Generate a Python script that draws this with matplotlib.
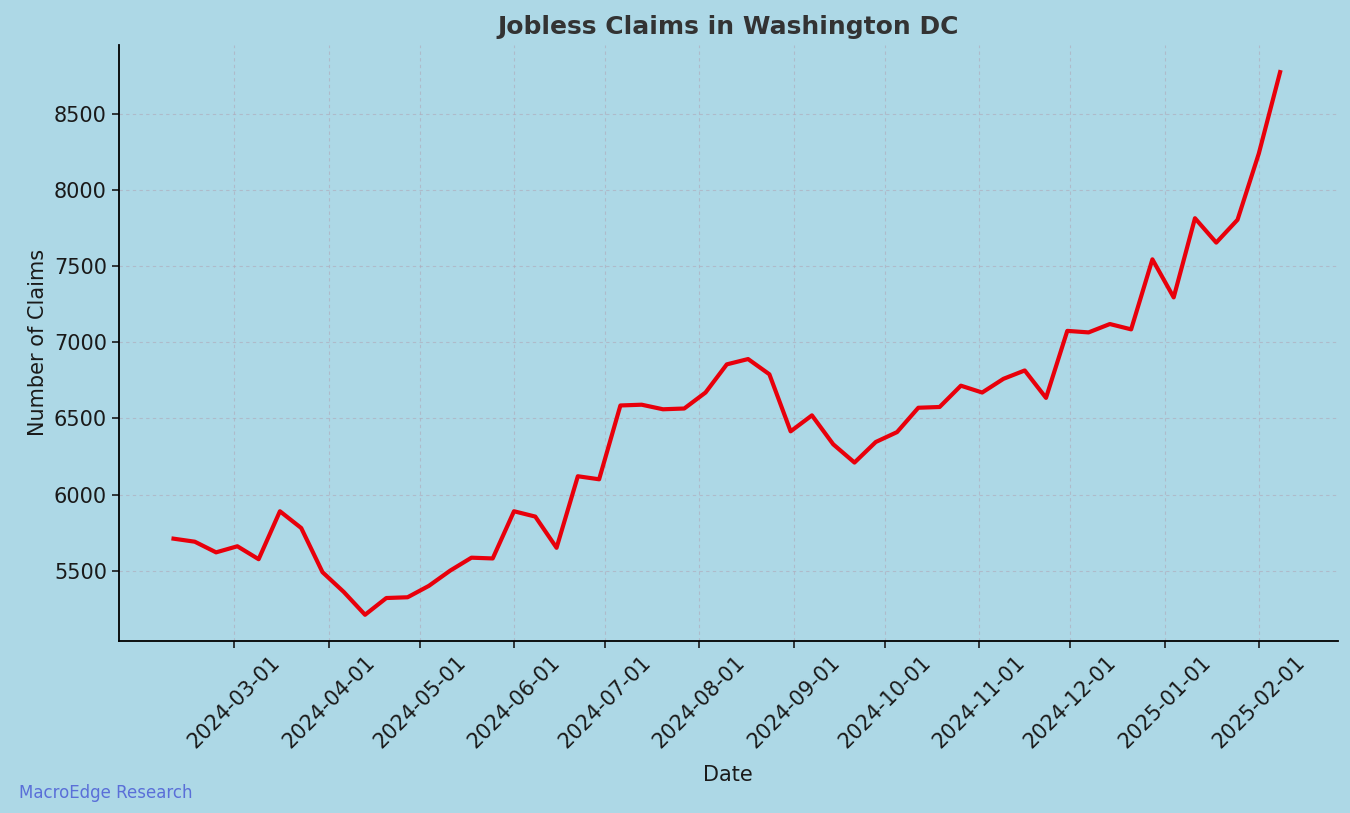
import matplotlib
matplotlib.use("Agg")
import matplotlib.pyplot as plt
import matplotlib.dates as mdates
import pandas as pd

dates = pd.date_range("2024-02-10", periods=53, freq="7D")
claims = [5710, 5690, 5620, 5660, 5575, 5890, 5780, 5490, 5360, 5210,
          5320, 5325, 5400, 5500, 5585, 5580, 5890, 5855, 5650, 6120,
          6100, 6585, 6590, 6560, 6565, 6670, 6855, 6890, 6790, 6415,
          6520, 6330, 6210, 6345, 6410, 6570, 6575, 6715, 6670, 6760,
          6815, 6635, 7075, 7065, 7120, 7085, 7545, 7295, 7815, 7655,
          7805, 8240, 8775]
yticks = [5500, 6000, 6500, 7000, 7500, 8000, 8500]
xticks = pd.date_range("2024-03-01", "2025-02-01", freq="MS")

bg = "#ADD8E6"
fig = plt.figure(figsize=(13.5, 8.13), dpi=100, facecolor=bg)
ax = fig.add_axes([0.088, 0.212, 0.903, 0.733])
ax.set_facecolor(bg)
ax.plot(dates, claims, color="#e8000b", linewidth=3)

ax.set_ylim(5040, 8955)
ax.set_xlim(pd.Timestamp("2024-01-23"), pd.Timestamp("2025-02-27"))
ax.set_yticks(yticks)
ax.set_xticks(xticks)
ax.xaxis.set_major_formatter(mdates.DateFormatter("%Y-%m-%d"))
plt.setp(ax.get_xticklabels(), rotation=45, ha="center")
ax.tick_params(axis="both", labelsize=15, colors="#1a1a1a", length=5, width=1.2)
ax.grid(True, linestyle=(0, (3, 3)), color="#b0a8b8", linewidth=0.8, alpha=0.6)
ax.spines["top"].set_visible(False)
ax.spines["right"].set_visible(False)
ax.spines["left"].set_linewidth(1.3)
ax.spines["bottom"].set_linewidth(1.3)

ax.set_title("Jobless Claims in Washington DC", fontsize=18, fontweight="bold",
             color="#333333", pad=8)
ax.set_xlabel("Date", fontsize=15, color="#1a1a1a", labelpad=9)
ax.set_ylabel("Number of Claims", fontsize=15, color="#1a1a1a")
fig.text(0.014, 0.019, "MacroEdge Research", fontsize=12, color="#5a6fd8")

fig.savefig("out.png", dpi=100, facecolor=bg)
